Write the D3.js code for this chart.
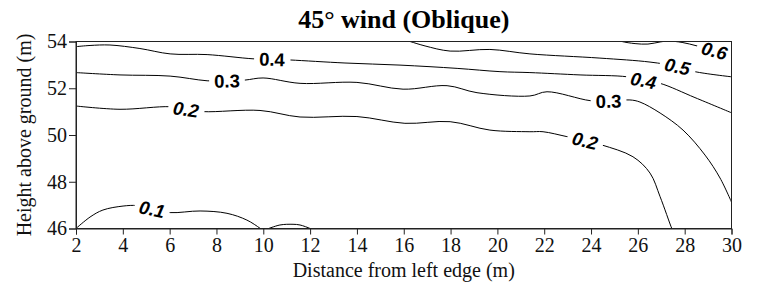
<!DOCTYPE html>
<html><head><meta charset="utf-8">
<script src="https://cdn.jsdelivr.net/npm/d3@7"></script>
<style>
html,body{margin:0;padding:0;background:#fff;}
</style></head>
<body>
<svg id="chart" width="762" height="292"></svg>
<script>
// ---- data (distance m, height m) ----
const xTicks = [2,4,6,8,10,12,14,16,18,20,22,24,26,28,30];
const yTicks = [46,48,50,52,54];
const title = "45° wind (Oblique)";
const xLabel = "Distance from left edge (m)";
const yLabel = "Height above ground (m)";

const c01a = [[2.0,46.0],[2.60,46.49],[3.15,46.79],[4.01,46.96],[4.61,46.98],[5.25,46.83],[6.02,46.68],[7.30,46.75],[8.45,46.65],[9.30,46.36],[9.86,46.01],[10.0,45.9]];
const c01b = [[10.1,45.95],[10.71,46.15],[11.27,46.18],[11.57,46.15],[12.0,46.0],[12.1,45.95]];
const c02 = [[2.0,51.24],[3.88,51.10],[6.02,51.21],[6.70,51.10],[7.43,51.00],[9.86,51.05],[11.57,50.77],[14.00,50.79],[16.05,50.50],[17.98,50.57],[19.68,50.21],[21.39,50.14],[21.95,50.14],[22.97,49.93],[23.74,49.76],[24.47,49.57],[25.79,49.07],[26.52,48.37],[26.95,47.36],[27.45,46.0],[27.5,45.9]];
const c03 = [[2.0,52.67],[3.88,52.57],[6.02,52.52],[7.60,52.32],[8.45,52.32],[9.22,52.35],[9.99,52.44],[11.57,52.21],[14.00,52.25],[15.97,51.96],[17.85,52.11],[19.13,51.81],[21.39,51.67],[22.12,51.85],[23.96,51.47],[24.75,51.45],[25.66,51.50],[26.09,51.41],[26.95,50.94],[27.93,50.21],[28.87,49.14],[29.51,48.16],[30.0,47.13]];
const c04 = [[2.0,53.78],[2.60,53.83],[3.45,53.85],[4.73,53.70],[6.02,53.47],[7.60,53.44],[9.56,53.26],[10.37,53.24],[11.14,53.21],[13.49,53.08],[15.84,52.99],[18.28,52.85],[20.11,52.71],[21.39,52.67],[23.53,52.57],[25.54,52.49],[26.24,52.33],[26.95,52.21],[28.44,51.60],[30.0,50.95]];
const c05 = [[16.0,54.08],[16.27,54.0],[16.91,53.81],[17.98,53.59],[19.68,53.66],[21.39,53.47],[24.38,53.29],[26.52,53.12],[27.69,52.93],[28.44,52.71],[30.0,52.49]];
const c06 = [[25.1,54.08],[25.32,54.0],[25.88,53.91],[26.43,53.89],[26.95,53.98],[27.29,54.02],[27.89,53.96],[28.53,53.81],[29.27,53.61],[30.0,53.42]];
const contours = [c01a, c01b, c02, c03, c04, c05, c06];

const labelText  = ["0.1","0.2","0.2","0.3","0.3","0.4","0.4","0.5","0.6"];
const labelLine  = [c01a, c02, c02, c03, c03, c04, c04, c05, c06];
const labelPoint = [[5.25,46.83],[6.70,51.10],[23.74,49.76],[8.45,52.32],[24.75,51.45],[10.37,53.24],[26.24,52.33],[27.69,52.93],[29.27,53.61]];
// style: which labels are italic
const labelItalic = [true,true,true,false,false,false,true,true,true];

// ---- layout ----
const W = 762, H = 292;
const m = {left:76, right:30.5, top:41.5, bottom:63.5};
const svg = d3.select("#chart");
const x = d3.scaleLinear().domain([2,30]).range([m.left, W-m.right]);
const y = d3.scaleLinear().domain([46,54]).range([H-m.bottom, m.top]);

svg.append("defs").append("clipPath").attr("id","clip")
  .append("rect").attr("x",m.left).attr("y",m.top)
  .attr("width",W-m.left-m.right).attr("height",H-m.top-m.bottom);

const line = d3.line().x(d=>x(d[0])).y(d=>y(d[1])).curve(d3.curveCatmullRom.alpha(0.5));
const g = svg.append("g").attr("clip-path","url(#clip)");
g.selectAll("path.c").data(contours).join("path")
  .attr("class","c").attr("d",line)
  .attr("fill","none").attr("stroke","#000").attr("stroke-width",1);

// labels
const lg = svg.append("g");
labelText.forEach((t,i)=>{
  const pts = labelLine[i], p = labelPoint[i];
  let bi = 0, bd = Infinity;
  pts.forEach((q,j)=>{const d=(q[0]-p[0])**2+(q[1]-p[1])**2; if(d<bd){bd=d;bi=j;}});
  const a = pts[Math.max(0,bi-1)], b = pts[Math.min(pts.length-1,bi+1)];
  const ang = Math.atan2(y(b[1])-y(a[1]), x(b[0])-x(a[0]))*180/Math.PI;
  const gg = lg.append("g").attr("transform",`translate(${x(p[0])},${y(p[1])}) rotate(${ang})`);
  const rect = gg.append("rect").attr("fill","#fff");
  const tx = gg.append("text").text(t)
    .attr("text-anchor","middle").attr("dy","0.36em")
    .attr("font-family","'Liberation Sans', Arial, sans-serif")
    .attr("font-weight","bold").attr("font-size",18.5)
    .attr("font-style", labelItalic[i] ? "italic" : "normal");
  const bb = tx.node().getBBox();
  rect.attr("x",bb.x-5).attr("y",-7).attr("width",bb.width+10).attr("height",14);
});

// frame
svg.append("rect").attr("x",m.left).attr("y",m.top)
  .attr("width",W-m.left-m.right).attr("height",H-m.top-m.bottom)
  .attr("fill","none").attr("stroke","#222").attr("stroke-width",1);

// axes
const fontSerif = "'Liberation Serif','Times New Roman',serif";
const xa = svg.append("g").attr("transform",`translate(0,${H-m.bottom})`)
  .call(d3.axisBottom(x).tickValues(xTicks).tickSize(6).tickPadding(3).tickFormat(d3.format("d")));
const ya = svg.append("g").attr("transform",`translate(${m.left},0)`)
  .call(d3.axisLeft(y).tickValues(yTicks).tickSize(7).tickPadding(2).tickFormat(d3.format("d")));
[xa,ya].forEach(a=>{
  a.selectAll("text").attr("font-family",fontSerif).attr("font-size",20).attr("fill","#111");
  a.selectAll("line").attr("stroke","#222");
  a.select(".domain").attr("stroke","#222");
});

svg.append("text").text(title).attr("x",(m.left+W-m.right)/2).attr("y",28)
  .attr("text-anchor","middle").attr("font-family",fontSerif)
  .attr("font-weight","bold").attr("font-size",26).attr("fill","#000");
svg.append("text").text(xLabel).attr("x",(m.left+W-m.right)/2).attr("y",277)
  .attr("text-anchor","middle").attr("font-family",fontSerif)
  .attr("font-size",20).attr("fill","#111");
svg.append("text").text(yLabel)
  .attr("transform",`translate(31,${(m.top+H-m.bottom)/2}) rotate(-90)`)
  .attr("text-anchor","middle").attr("font-family",fontSerif)
  .attr("font-size",20).attr("fill","#111");
</script>
</body></html>
